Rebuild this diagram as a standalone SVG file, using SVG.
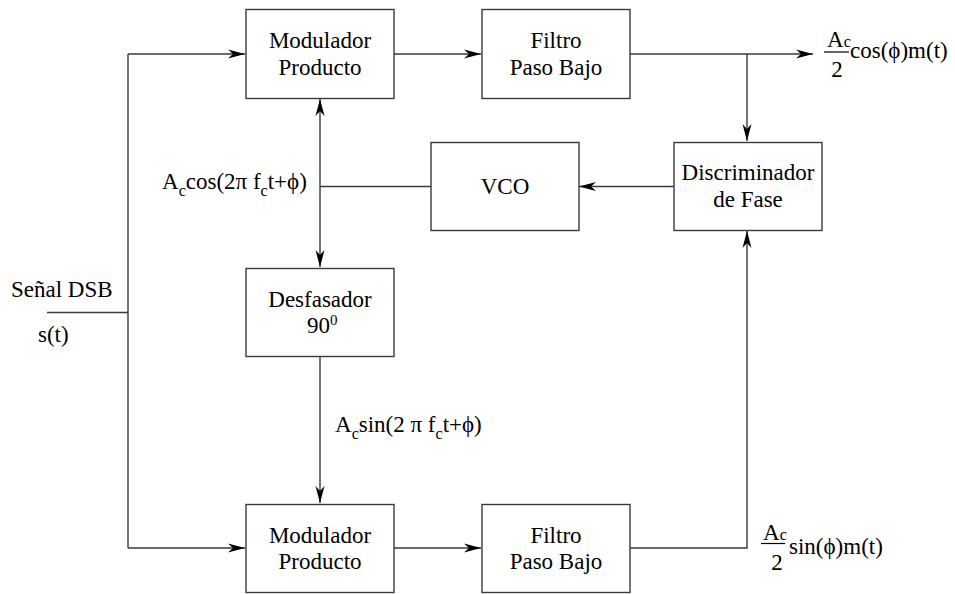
<svg xmlns="http://www.w3.org/2000/svg" width="955" height="594" viewBox="0 0 955 594">
<style>
.box{fill:#fff;stroke:#3a3a3a;stroke-width:1.4}
.ln{fill:none;stroke:#3a3a3a;stroke-width:1.4}
.fr{stroke:#000;stroke-width:1.2}
</style>
<defs>
<marker id="ah" viewBox="-18 -5 19 10" refX="0" refY="0" markerWidth="19" markerHeight="10" markerUnits="userSpaceOnUse" orient="auto">
<path d="M0,0 L-17,-4.5 L-12,0 L-17,4.5 Z" fill="#000"/>
</marker>
</defs>
<rect width="955" height="594" fill="#fff"/>
<g id="connectors">
<line class="ln" x1="47" y1="312.5" x2="128" y2="312.5"/>
<line class="ln" x1="128" y1="54" x2="128" y2="548"/>
<line class="ln" x1="128" y1="54" x2="245" y2="54" marker-end="url(#ah)"/>
<line class="ln" x1="128" y1="548" x2="245" y2="548" marker-end="url(#ah)"/>
<line class="ln" x1="394" y1="54" x2="481" y2="54" marker-end="url(#ah)"/>
<line class="ln" x1="630" y1="54" x2="813" y2="54" marker-end="url(#ah)"/>
<line class="ln" x1="747" y1="54" x2="747" y2="141" marker-end="url(#ah)"/>
<line class="ln" x1="674" y1="186.5" x2="579" y2="186.5" marker-end="url(#ah)"/>
<line class="ln" x1="431" y1="186.5" x2="320" y2="186.5"/>
<line class="ln" x1="320" y1="186.5" x2="320" y2="99" marker-end="url(#ah)"/>
<line class="ln" x1="320" y1="186.5" x2="320" y2="267" marker-end="url(#ah)"/>
<line class="ln" x1="320" y1="357" x2="320" y2="503" marker-end="url(#ah)"/>
<line class="ln" x1="394" y1="548" x2="481" y2="548" marker-end="url(#ah)"/>
<polyline class="ln" points="630,548 747,548 747,231" marker-end="url(#ah)"/>
</g>
<g id="mod_top">
<rect class="box" x="246" y="9.5" width="148" height="89"/>
<text font-family="Liberation Serif" font-size="23" text-anchor="middle" x="320" y="48">Modulador</text>
<text font-family="Liberation Serif" font-size="23" text-anchor="middle" x="320" y="74.5">Producto</text>
</g>
<g id="filtro_top">
<rect class="box" x="482" y="9.5" width="148" height="89"/>
<text font-family="Liberation Serif" font-size="23" text-anchor="middle" x="556" y="48">Filtro</text>
<text font-family="Liberation Serif" font-size="23" text-anchor="middle" x="556" y="74.5">Paso Bajo</text>
</g>
<g id="vco">
<rect class="box" x="431" y="142.5" width="148" height="88"/>
<text font-family="Liberation Serif" font-size="23" text-anchor="middle" x="505" y="194">VCO</text>
</g>
<g id="discriminador">
<rect class="box" x="674" y="142.5" width="148" height="88"/>
<text font-family="Liberation Serif" font-size="23" text-anchor="middle" x="748" y="180">Discriminador</text>
<text font-family="Liberation Serif" font-size="23" text-anchor="middle" x="748" y="206.5">de Fase</text>
</g>
<g id="desfasador">
<rect class="box" x="246" y="268.5" width="148" height="88"/>
<text font-family="Liberation Serif" font-size="23" text-anchor="middle" x="320" y="306.5">Desfasador</text>
<text font-family="Liberation Serif" font-size="23" x="307" y="333">90<tspan font-size="15" dy="-8">0</tspan></text>
</g>
<g id="mod_bot">
<rect class="box" x="246" y="504.5" width="148" height="88"/>
<text font-family="Liberation Serif" font-size="23" text-anchor="middle" x="320" y="542.5">Modulador</text>
<text font-family="Liberation Serif" font-size="23" text-anchor="middle" x="320" y="569">Producto</text>
</g>
<g id="filtro_bot">
<rect class="box" x="482" y="504.5" width="148" height="88"/>
<text font-family="Liberation Serif" font-size="23" text-anchor="middle" x="556" y="542.5">Filtro</text>
<text font-family="Liberation Serif" font-size="23" text-anchor="middle" x="556" y="569">Paso Bajo</text>
</g>
<g id="labels">
<text font-family="Liberation Serif" font-size="23" x="11" y="297">Señal DSB</text>
<text font-family="Liberation Serif" font-size="23" x="38" y="342">s(t)</text>
<text font-family="Liberation Serif" font-size="23" x="162" y="189">A<tspan font-size="16" dy="7">c</tspan><tspan dy="-7">cos(2π </tspan>f<tspan font-size="16" dy="7">c</tspan><tspan dy="-7">t+ϕ)</tspan></text>
<text font-family="Liberation Serif" font-size="23" x="335" y="432">A<tspan font-size="16" dy="7">c</tspan><tspan dy="-7">sin(2 π </tspan>f<tspan font-size="16" dy="7">c</tspan><tspan dy="-7">t+ϕ)</tspan></text>
<text font-family="Liberation Serif" font-size="23" x="827" y="47">A<tspan font-size="16">c</tspan></text>
<line class="fr" x1="824" y1="52" x2="849" y2="52"/>
<text font-family="Liberation Serif" font-size="23" text-anchor="middle" x="837" y="77">2</text>
<text font-family="Liberation Serif" font-size="23" x="850" y="58">cos(ϕ)m(t)</text>
<text font-family="Liberation Serif" font-size="23" x="763" y="539.5">A<tspan font-size="16">c</tspan></text>
<line class="fr" x1="761" y1="543.5" x2="785" y2="543.5"/>
<text font-family="Liberation Serif" font-size="23" text-anchor="middle" x="777" y="570">2</text>
<text font-family="Liberation Serif" font-size="23" x="789" y="554">sin(ϕ)m(t)</text>
</g>
</svg>
